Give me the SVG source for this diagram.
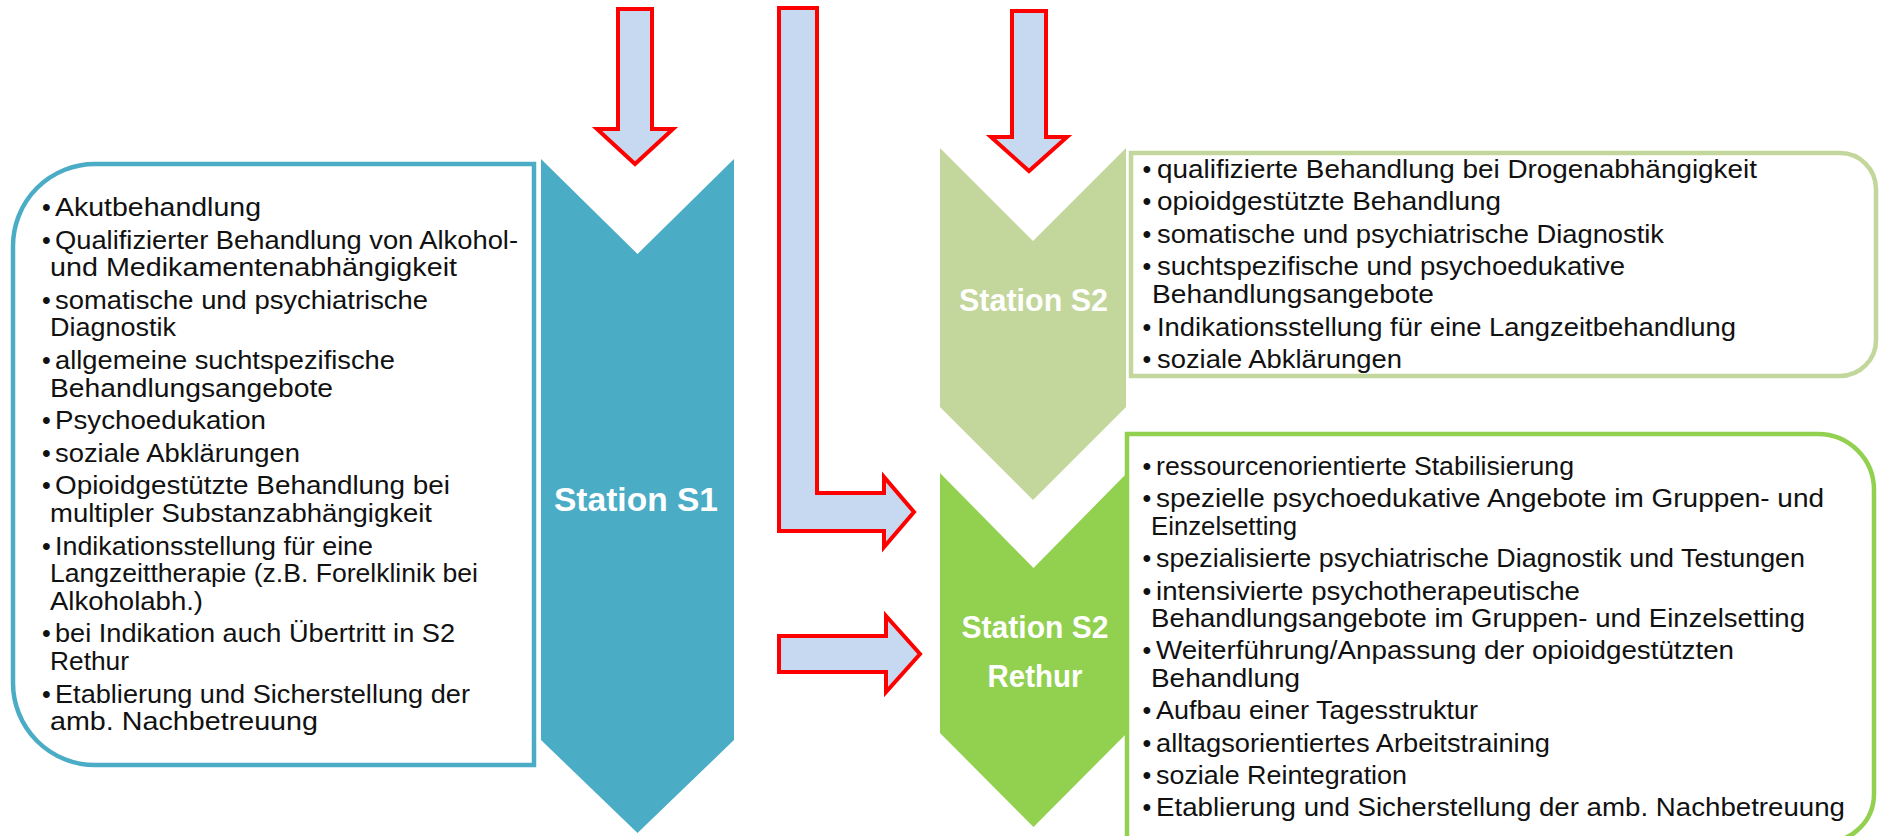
<svg xmlns="http://www.w3.org/2000/svg" width="1880" height="836" viewBox="0 0 1880 836">
<style>
.t{font-family:"Liberation Sans",Arial,sans-serif;font-size:25px;fill:#111}
.b{font-family:"Liberation Sans",Arial,sans-serif;font-size:25px;fill:#111;text-anchor:middle}
.lbl{font-family:"Liberation Sans",Arial,sans-serif;font-weight:bold;fill:#fff;text-anchor:middle}
.arrow{fill:#C6D9F1;stroke:#FF0000;stroke-width:4;stroke-linejoin:miter}
.box{fill:#fff;stroke-width:4.5}
</style>
<rect width="1880" height="836" fill="#fff"/>

<g id="node-s1">
  <polygon points="541,159 637.5,254 734,159 734,740 637.5,833 541,740" fill="#4BACC6"/>
  <text class="lbl" x="636" y="511" font-size="34" textLength="164" lengthAdjust="spacingAndGlyphs">Station S1</text>
</g>

<g id="node-s2">
  <polygon points="940,148 1033,241 1126,148 1126,407 1033,500 940,407" fill="#C3D69B"/>
  <text class="lbl" x="1033.5" y="311" font-size="32" textLength="149" lengthAdjust="spacingAndGlyphs">Station S2</text>
</g>

<g id="node-s2-rethur">
  <polygon points="940,473 1033.5,568 1127,473 1127,733 1033.5,827 940,733" fill="#92D050"/>
  <text class="lbl" x="1035" y="638" font-size="32" textLength="147" lengthAdjust="spacingAndGlyphs">Station S2</text>
  <text class="lbl" x="1035" y="687" font-size="32" textLength="95" lengthAdjust="spacingAndGlyphs">Rethur</text>
</g>

<g id="node-s1-list">
  <path class="box" stroke="#4BACC6" d="M534,164 V765 H95 A82,82 0 0 1 13,683 V246 A82,82 0 0 1 95,164 Z"/>
  <text class="b" x="46.5" y="216">•</text><text class="t" x="55" y="216" textLength="206" lengthAdjust="spacingAndGlyphs">Akutbehandlung</text>
  <text class="b" x="46.5" y="248.6">•</text><text class="t" x="55" y="248.6" textLength="463" lengthAdjust="spacingAndGlyphs">Qualifizierter Behandlung von Alkohol-</text>
  <text class="t" x="50" y="276.2" textLength="407" lengthAdjust="spacingAndGlyphs">und Medikamentenabhängigkeit</text>
  <text class="b" x="46.5" y="308.8">•</text><text class="t" x="55" y="308.8" textLength="373" lengthAdjust="spacingAndGlyphs">somatische und psychiatrische</text>
  <text class="t" x="50" y="336.4" textLength="126" lengthAdjust="spacingAndGlyphs">Diagnostik</text>
  <text class="b" x="46.5" y="369">•</text><text class="t" x="55" y="369" textLength="340" lengthAdjust="spacingAndGlyphs">allgemeine suchtspezifische</text>
  <text class="t" x="50" y="396.6" textLength="283" lengthAdjust="spacingAndGlyphs">Behandlungsangebote</text>
  <text class="b" x="46.5" y="429.2">•</text><text class="t" x="55" y="429.2" textLength="211" lengthAdjust="spacingAndGlyphs">Psychoedukation</text>
  <text class="b" x="46.5" y="461.8">•</text><text class="t" x="55" y="461.8" textLength="245" lengthAdjust="spacingAndGlyphs">soziale Abklärungen</text>
  <text class="b" x="46.5" y="494.4">•</text><text class="t" x="55" y="494.4" textLength="395" lengthAdjust="spacingAndGlyphs">Opioidgestützte Behandlung bei</text>
  <text class="t" x="50" y="522" textLength="382" lengthAdjust="spacingAndGlyphs">multipler Substanzabhängigkeit</text>
  <text class="b" x="46.5" y="554.6">•</text><text class="t" x="55" y="554.6" textLength="318" lengthAdjust="spacingAndGlyphs">Indikationsstellung für eine</text>
  <text class="t" x="50" y="582.2" textLength="428" lengthAdjust="spacingAndGlyphs">Langzeittherapie (z.B. Forelklinik bei</text>
  <text class="t" x="50" y="609.8" textLength="153" lengthAdjust="spacingAndGlyphs">Alkoholabh.)</text>
  <text class="b" x="46.5" y="642.4">•</text><text class="t" x="55" y="642.4" textLength="400" lengthAdjust="spacingAndGlyphs">bei Indikation auch Übertritt in S2</text>
  <text class="t" x="50" y="670" textLength="79" lengthAdjust="spacingAndGlyphs">Rethur</text>
  <text class="b" x="46.5" y="702.6">•</text><text class="t" x="55" y="702.6" textLength="415" lengthAdjust="spacingAndGlyphs">Etablierung und Sicherstellung der</text>
  <text class="t" x="50" y="730.2" textLength="268" lengthAdjust="spacingAndGlyphs">amb. Nachbetreuung</text>
</g>

<g id="node-s2-list">
  <path class="box" stroke="#C3D69B" d="M1131,153 H1840 A36,36 0 0 1 1876,189 V340 A36,36 0 0 1 1840,376 H1131 Z"/>
  <text class="b" x="1147" y="177.5">•</text><text class="t" x="1157" y="177.5" textLength="600" lengthAdjust="spacingAndGlyphs">qualifizierte Behandlung bei Drogenabhängigkeit</text>
  <text class="b" x="1147" y="210">•</text><text class="t" x="1157" y="210" textLength="344" lengthAdjust="spacingAndGlyphs">opioidgestützte Behandlung</text>
  <text class="b" x="1147" y="242.5">•</text><text class="t" x="1157" y="242.5" textLength="507" lengthAdjust="spacingAndGlyphs">somatische und psychiatrische Diagnostik</text>
  <text class="b" x="1147" y="275">•</text><text class="t" x="1157" y="275" textLength="468" lengthAdjust="spacingAndGlyphs">suchtspezifische und psychoedukative</text>
  <text class="t" x="1152" y="303" textLength="282" lengthAdjust="spacingAndGlyphs">Behandlungsangebote</text>
  <text class="b" x="1147" y="335.5">•</text><text class="t" x="1157" y="335.5" textLength="579" lengthAdjust="spacingAndGlyphs">Indikationsstellung für eine Langzeitbehandlung</text>
  <text class="b" x="1147" y="368">•</text><text class="t" x="1157" y="368" textLength="245" lengthAdjust="spacingAndGlyphs">soziale Abklärungen</text>
</g>

<g id="node-s2-rethur-list">
  <path class="box" stroke="#92D050" d="M1127,434 H1818 A56,56 0 0 1 1874,490 V794 A48,48 0 0 1 1826,842 H1127 Z"/>
  <text class="b" x="1147" y="475">•</text><text class="t" x="1156" y="475" textLength="418" lengthAdjust="spacingAndGlyphs">ressourcenorientierte Stabilisierung</text>
  <text class="b" x="1147" y="507.4">•</text><text class="t" x="1156" y="507.4" textLength="668" lengthAdjust="spacingAndGlyphs">spezielle psychoedukative Angebote im Gruppen- und</text>
  <text class="t" x="1151" y="534.8" textLength="146" lengthAdjust="spacingAndGlyphs">Einzelsetting</text>
  <text class="b" x="1147" y="567.2">•</text><text class="t" x="1156" y="567.2" textLength="649" lengthAdjust="spacingAndGlyphs">spezialisierte psychiatrische Diagnostik und Testungen</text>
  <text class="b" x="1147" y="599.6">•</text><text class="t" x="1156" y="599.6" textLength="424" lengthAdjust="spacingAndGlyphs">intensivierte psychotherapeutische</text>
  <text class="t" x="1151" y="627" textLength="654" lengthAdjust="spacingAndGlyphs">Behandlungsangebote im Gruppen- und Einzelsetting</text>
  <text class="b" x="1147" y="659.4">•</text><text class="t" x="1156" y="659.4" textLength="578" lengthAdjust="spacingAndGlyphs">Weiterführung/Anpassung der opioidgestützten</text>
  <text class="t" x="1151" y="686.8" textLength="149" lengthAdjust="spacingAndGlyphs">Behandlung</text>
  <text class="b" x="1147" y="719.2">•</text><text class="t" x="1156" y="719.2" textLength="322" lengthAdjust="spacingAndGlyphs">Aufbau einer Tagesstruktur</text>
  <text class="b" x="1147" y="751.6">•</text><text class="t" x="1156" y="751.6" textLength="394" lengthAdjust="spacingAndGlyphs">alltagsorientiertes Arbeitstraining</text>
  <text class="b" x="1147" y="784">•</text><text class="t" x="1156" y="784" textLength="251" lengthAdjust="spacingAndGlyphs">soziale Reintegration</text>
  <text class="b" x="1147" y="816.4">•</text><text class="t" x="1156" y="816.4" textLength="689" lengthAdjust="spacingAndGlyphs">Etablierung und Sicherstellung der amb. Nachbetreuung</text>
</g>

<g id="connectors">
  <path class="arrow" d="M618,9 H652 V129 H673 L635,164 L597,129 H618 Z"/>
  <path class="arrow" d="M1012,11 H1046 V137 H1067 L1029,171 L991,137 H1012 Z"/>
  <path class="arrow" d="M779,8 H817 V493 H884 V477 L914,512 L884,547 V531 H779 Z"/>
  <path class="arrow" d="M779,636 H886 V616 L920,654 L886,692 V672 H779 Z"/>
</g>
</svg>
